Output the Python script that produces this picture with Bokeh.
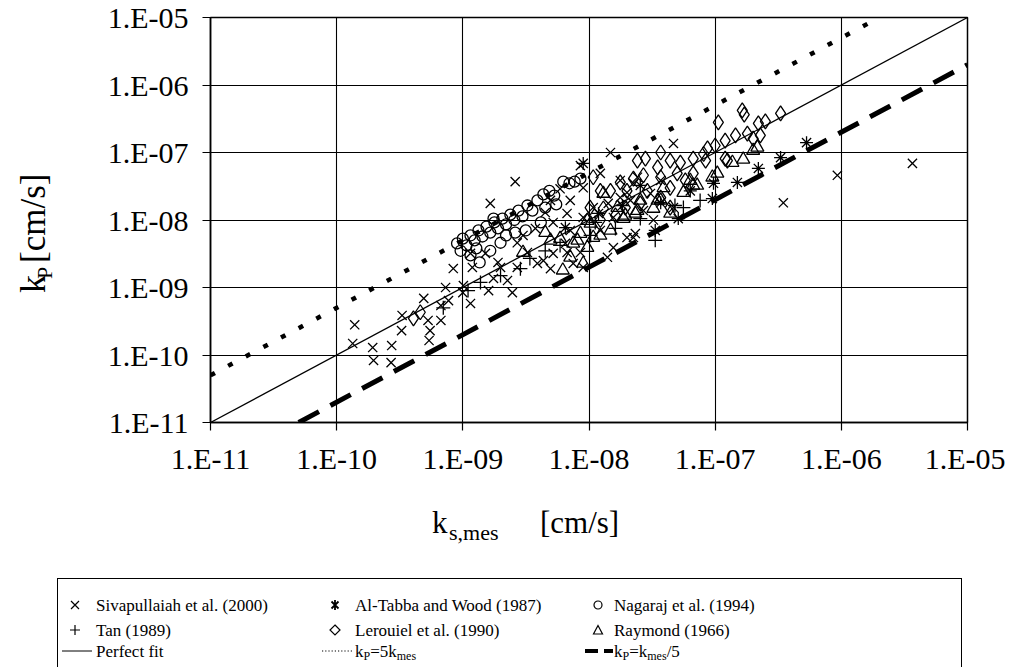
import math
from bokeh.plotting import figure
from bokeh.models import FixedTicker, CustomJSTickFormatter, Range1d, Div
from bokeh.layouts import column, row
from bokeh.embed import file_html
from bokeh.resources import INLINE

FONT = "Liberation Serif"

# ---------------- data ----------------
tick_values = [1e-11, 1e-10, 1e-9, 1e-8, 1e-7, 1e-6, 1e-5]
tick_labels = ["1.E-11", "1.E-10", "1.E-09", "1.E-08", "1.E-07", "1.E-06", "1.E-05"]

siv_x = [1.39e-10, 1.34e-10, 1.93e-10, 1.96e-10, 2.73e-10, 2.70e-10, 3.27e-10, 3.30e-10, 4.9e-10, 5.3e-10,
         5.4e-10, 6.7e-10, 7.3e-10, 7.7e-10, 8.4e-10, 1.15e-9, 1.19e-9, 1.15e-9, 1.51e-9, 1.75e-9,
         1.99e-9, 2.47e-9, 2.7e-9, 2.7e-9, 3.25e-9, 3.9e-9, 4.35e-9, 4.95e-9, 5.2e-9, 6.7e-9,
         7.5e-9, 1.0e-9, 1.01e-9, 2.6e-9, 1.65e-9, 5.2e-9, 6.7e-9, 4.95e-9, 1.08e-8, 1.77e-8,
         2.25e-8, 1.77e-8, 8.55e-9, 9.0e-9, 1.56e-8, 2.25e-8, 1.4e-8, 2.7e-8, 8.55e-9, 1.48e-8,
         4.67e-8, 3.47e-7, 9.3e-7, 3.66e-6, 9.0e-9, 1.23e-8, 2.0e-8, 7.1e-9, 1.42e-8, 2.13e-8,
         3.07e-8, 3.7e-8, 2.42e-8, 1.56e-8, 1.23e-8, 7.1e-9, 9.0e-9, 2.33e-8, 3.24e-8, 4.67e-8,
         6.5e-9, 2.0e-8, 3.0e-9, 3.76e-9, 1.9e-9, 2.26e-9, 1.6e-9, 6.7e-10, 5.5e-10, 5.9e-9,
         4.5e-9]
siv_y = [2.8e-10, 1.48e-10, 1.29e-10, 8.3e-11, 1.38e-10, 7.7e-11, 2.3e-10, 3.85e-10, 6.9e-10, 3.25e-10,
         1.64e-10, 5.4e-10, 1.0e-9, 6.4e-10, 1.91e-9, 5.8e-10, 1.98e-9, 3.2e-9, 3.2e-9, 1.36e-9,
         1.98e-9, 8.4e-10, 1.98e-9, 4.6e-9, 3.3e-9, 2.27e-9, 2.5e-9, 1.9e-9, 3.2e-9, 3.3e-9,
         2.27e-9, 8.4e-10, 1.07e-9, 3.7e-8, 1.76e-8, 9.2e-9, 1.25e-8, 1.95e-8, 1.53e-8, 3.85e-8,
         3.5e-8, 2.15e-8, 3.3e-9, 1.98e-9, 3.9e-9, 5.5e-9, 2.8e-9, 1.38e-8, 6.4e-8, 1.0e-7,
         1.36e-7, 1.8e-8, 4.6e-8, 6.9e-8, 3.0e-8, 4.9e-8, 2.55e-8, 1.95e-8, 1.76e-8, 1.95e-8,
         2.47e-8, 3.85e-8, 4.3e-8, 1.09e-8, 7.0e-9, 7.0e-9, 1.09e-8, 6.3e-9, 1.0e-8, 1.53e-8,
         4.5e-9, 5.5e-9, 5.9e-9, 7.5e-9, 2.35e-9, 1.27e-9, 9.0e-10, 3.25e-10, 2.3e-10, 2.9e-8,
         1.29e-8]

alt_x = [9.5e-8, 9.7e-8, 1.5e-7, 2.2e-7, 3.3e-7, 5.3e-7, 5.1e-8, 9.0e-9, 3.7e-8, 2.55e-8,
         1.84e-8, 1.19e-8, 6.35e-8, 3.35e-8, 6.5e-9]
alt_y = [2.08e-8, 3.5e-8, 3.6e-8, 5.8e-8, 8.4e-8, 1.4e-7, 1.05e-8, 6.9e-8, 1.8e-8, 3.25e-8,
         1.64e-8, 1.25e-8, 2.7e-8, 7.0e-9, 7.7e-9]

nag_x = [9.0e-10, 1.0e-9, 1.07e-9, 1.15e-9, 1.24e-9, 1.33e-9, 1.43e-9, 1.54e-9, 1.65e-9, 1.78e-9,
         1.9e-9, 2.06e-9, 2.2e-9, 2.38e-9, 2.56e-9, 2.76e-9, 2.97e-9, 3.25e-9, 3.56e-9, 3.9e-9,
         4.35e-9, 4.85e-9, 5.3e-9, 6.25e-9, 7.0e-9, 7.7e-9, 8.55e-9, 1.15e-9, 1.36e-9, 1.65e-9,
         1.99e-9, 2.6e-9, 3.15e-9, 9.6e-10, 1.28e-9, 4.15e-9, 5.5e-9, 4.5e-9, 2.2e-9, 1.75e-9]
nag_y = [4.5e-9, 5.3e-9, 4.2e-9, 5.9e-9, 5.0e-9, 7.0e-9, 5.7e-9, 8.0e-9, 6.5e-9, 9.2e-9,
         7.5e-9, 1.05e-8, 8.6e-9, 1.2e-8, 1.0e-8, 1.38e-8, 1.13e-8, 1.64e-8, 1.38e-8, 1.95e-8,
         2.4e-8, 2.7e-8, 2.3e-8, 3.7e-8, 3.5e-8, 3.7e-8, 4.1e-8, 3.0e-9, 2.35e-9, 3.5e-9,
         4.6e-9, 6.5e-9, 7.0e-9, 3.5e-9, 3.8e-9, 9.2e-9, 1.7e-8, 1.53e-8, 5.9e-9, 1.05e-8]

tan_x = [4.8e-8, 5.6e-8, 7.0e-10, 1.1e-9, 1.99e-9, 3.4e-9, 5.9e-9, 1.03e-8, 1.62e-8, 2.55e-8,
         7.6e-8, 4.5e-9, 2.86e-9, 1.38e-9, 1.12e-8, 3.35e-8]
tan_y = [1.64e-8, 1.53e-8, 5.0e-10, 9.0e-10, 1.5e-9, 2.7e-9, 4.2e-9, 5.9e-9, 7.5e-9, 1.05e-8,
         1.95e-8, 3.5e-9, 1.9e-9, 1.19e-9, 9.2e-9, 5.0e-9]

ler_x = [1.06e-7, 1.64e-7, 1.7e-7, 3.3e-7, 2.2e-7, 2.5e-7, 2.28e-7, 1.8e-7, 1.45e-7, 1.2e-7,
         1.0e-7, 8.7e-8, 2.0e-7, 1.2e-7, 8.4e-8, 2.42e-8, 2.8e-8, 3.7e-8, 4.4e-8, 5.3e-8,
         6.7e-8, 8.1e-8, 1.25e-7, 6.7e-8, 5.0e-8, 3.7e-8, 3.5e-8, 2.7e-8, 2.25e-8, 1.77e-8,
         2.0e-8, 1.48e-8, 1.23e-8, 1.08e-8, 2.9e-8, 4.4e-8, 5.8e-8, 2.55e-8, 3.7e-8, 1.3e-8,
         1.02e-8, 1.94e-8, 4.4e-8, 4.06e-10, 4.6e-10, 1.23e-8, 1.62e-8]
ler_y = [2.8e-7, 4.2e-7, 3.65e-7, 3.8e-7, 2.7e-7, 2.9e-7, 1.8e-7, 1.9e-7, 1.8e-7, 1.5e-7,
         1.27e-7, 1.15e-7, 1.6e-7, 8.1e-8, 7.6e-8, 7.6e-8, 8.1e-8, 1.0e-7, 7.6e-8, 7.1e-8,
         8.1e-8, 9.5e-8, 7.6e-8, 4.9e-8, 4.9e-8, 4.3e-8, 6.0e-8, 4.6e-8, 4.1e-8, 3.6e-8,
         2.7e-8, 2.7e-8, 2.7e-8, 4.3e-8, 2.7e-8, 3.0e-8, 3.85e-8, 1.76e-8, 2.15e-8, 1.48e-8,
         1.53e-8, 1.53e-8, 1.53e-8, 3.5e-10, 4.3e-10, 1.0e-8, 1.17e-8]

ray_x = [2.16e-7, 2.0e-7, 1.67e-7, 1.37e-7, 1.04e-7, 9.5e-8, 6.35e-8, 5.6e-8, 7.2e-8, 3.7e-8,
         3.24e-8, 2.33e-8, 1.88e-8, 1.48e-8, 1.08e-8, 9.7e-9, 8.1e-9, 5.9e-9, 1.68e-8, 2.55e-8,
         3.9e-8, 4.4e-8, 1.03e-8, 8.55e-9, 9.7e-9, 9.0e-9, 7.1e-9, 7.5e-9, 2.42e-8, 3.5e-8,
         6.7e-8, 1.3e-8, 6.2e-9, 1.23e-8, 4.95e-9, 3.0e-9, 1.94e-8, 4.5e-9]
ray_y = [1.19e-7, 1.07e-7, 7.9e-8, 7.1e-8, 4.9e-8, 4.3e-8, 3.85e-8, 2.55e-8, 3.25e-8, 1.95e-8,
         1.48e-8, 1.25e-8, 1.05e-8, 7.0e-9, 5.5e-9, 9.8e-9, 5.0e-9, 5.3e-9, 1.53e-8, 1.95e-8,
         3.0e-8, 1.25e-8, 8.9e-9, 6.3e-9, 3.9e-9, 2.27e-9, 2.8e-9, 4.5e-9, 1.38e-8, 1.95e-8,
         3.25e-8, 2.47e-8, 1.8e-9, 5.9e-9, 5.0e-9, 3.3e-9, 1.17e-8, 6.5e-9]

# reference lines k_P = k_mes, 5 k_mes, k_mes / 5
FACTOR = 5.0
fit_x = [1e-11, 1e-5]
upper_x = [1e-11, 2e-6]
lower_x = [5e-11, 1e-5]
fit_y = list(fit_x)
upper_y = [FACTOR * v for v in upper_x]
lower_y = [v / FACTOR for v in lower_x]

series_names = ["Sivapullaiah et al. (2000)", "Al-Tabba and Wood (1987)", "Nagaraj et al. (1994)",
                "Tan (1989)", "Lerouiel et al. (1990)", "Raymond (1966)"]

# ---------------- main plot ----------------
YW = 60                 # width of the y-title strip
PW, PH = 945, 482       # plot canvas
p = figure(width=PW, height=PH, x_axis_type="log", y_axis_type="log",
           x_range=Range1d(1e-11, 1e-5), y_range=Range1d(1e-11, 1e-5),
           output_backend="svg", toolbar_location=None,
           min_border_left=150, min_border_right=38, min_border_top=17, min_border_bottom=60)

exps = [round(math.log10(t)) for t in tick_values]
for ax in (p.xaxis[0], p.yaxis[0]):
    ax.ticker = FixedTicker(ticks=tick_values, minor_ticks=[])
    ax.formatter = CustomJSTickFormatter(args=dict(exps=exps, labels=tick_labels), code="""
        const e = Math.round(Math.log10(tick));
        const i = exps.indexOf(e);
        return i < 0 ? "" : labels[i];
    """)
    ax.major_label_text_font = FONT
    ax.major_label_text_font_size = "30px"
    ax.major_label_text_color = "black"
    ax.axis_line_color = "black"
    ax.axis_line_width = 1.5
    ax.major_tick_line_color = "black"
    ax.major_tick_line_width = 1.2
    ax.major_tick_in = 0
    ax.major_tick_out = 8
    ax.minor_tick_line_color = None
p.yaxis[0].major_label_standoff = 14
p.xaxis[0].major_label_standoff = 11

p.xgrid.ticker = FixedTicker(ticks=tick_values, minor_ticks=[])
p.ygrid.ticker = FixedTicker(ticks=tick_values, minor_ticks=[])
for g in (p.xgrid[0], p.ygrid[0]):
    g.grid_line_color = "black"
    g.grid_line_alpha = 1.0
    g.grid_line_width = 1.1
p.outline_line_color = "black"
p.outline_line_width = 1.5
p.background_fill_color = "white"
p.border_fill_color = "white"

p.line(fit_x, fit_y, line_color="black", line_width=1.3)
p.line(upper_x, upper_y, line_color="black", line_width=4.5, line_dash="5 15")
p.line(lower_x, lower_y, line_color="black", line_width=5, line_dash="23 13")

mk = dict(line_color="black", line_width=1.3)
p.scatter(ler_x, ler_y, marker="diamond", size=15, fill_color=None, **mk)
p.scatter(ray_x, ray_y, marker="triangle", size=13, fill_color=None, **mk)
p.scatter(nag_x, nag_y, marker="circle", size=11, fill_color=None, **mk)
p.scatter(tan_x, tan_y, marker="cross", size=14, **mk)
p.scatter(alt_x, alt_y, marker="asterisk", size=13, **mk)
p.scatter(siv_x, siv_y, marker="x", size=13, **mk)

# ---------------- HTML helpers (titles and legend) ----------------
FF = "font-family:'Liberation Serif',serif;color:black;"
ASC = 0.8375   # baseline offset (em) for line-height 1


def sub(t, fs=12, dy=3):
    return f'<span style="font-size:{fs}px;position:relative;top:{dy}px">{t}</span>'


def htext(t, left, baseline, fs):
    top = baseline - ASC * fs
    return (f'<div style="position:absolute;left:{left}px;top:{top:.1f}px;font-size:{fs}px;'
            f'line-height:{fs}px;white-space:nowrap;{FF}">{t}</div>')


def vtext(t, baseline_x, start_y, fs):
    left = baseline_x - ASC * fs
    return (f'<div style="position:absolute;left:{left:.1f}px;top:{start_y}px;font-size:{fs}px;'
            f'line-height:{fs}px;white-space:nowrap;transform-origin:0 0;transform:rotate(-90deg);{FF}">{t}</div>')


def svg_icon(cx, cy, body, w=12, h=12):
    return (f'<svg style="position:absolute;left:{cx - w / 2}px;top:{cy - h / 2}px;overflow:visible" '
            f'width="{w}" height="{h}" viewBox="0 0 {w} {h}">{body}</svg>')


ST = 'stroke="black" stroke-width="1.2" fill="none"'
icons = [
    f'<path d="M2,2 L10,10 M10,2 L2,10" {ST}/>',
    f'<path d="M2.5,2.5 L9.5,9.5 M9.5,2.5 L2.5,9.5 M6,1 L6,11" stroke="black" stroke-width="1.8" fill="none"/>',
    f'<circle cx="6" cy="6" r="4" {ST}/>',
    f'<path d="M6,1 L6,11 M1,6 L11,6" {ST}/>',
    f'<path d="M6,1 L11,6 L6,11 L1,6 Z" {ST}/>',
    f'<path d="M6,1.5 L10.5,10 L1.5,10 Z" {ST}/>',
]
line_icons = [
    '<line x1="0" y1="4" x2="30" y2="4" stroke="black" stroke-width="1"/>',
    '<line x1="0" y1="4" x2="30" y2="4" stroke="black" stroke-width="1.2" stroke-dasharray="1.2 2"/>',
    '<line x1="0" y1="4" x2="28" y2="4" stroke="black" stroke-width="4" stroke-dasharray="13 6"/>',
]
line_names = ["Perfect fit",
              "k" + sub("P") + "=5k" + sub("mes"),
              "k" + sub("P") + "=k" + sub("mes") + "/5"]

# ---------------- y-title strip ----------------
ytitle = (vtext("k", 45, 293, 36) + vtext("P", 52, 279, 22) + vtext("[cm/s]", 45, 263, 35))
ydiv = Div(text=f'<div style="position:relative;width:{YW}px;height:{PH}px">{ytitle}</div>',
           width=YW, height=PH, margin=0)

# ---------------- bottom strip: x title + legend ----------------
BW, BH = YW + PW, 667 - PH
B0 = PH   # page y of the strip top
parts = []
parts.append(htext("k", 432, 533 - B0, 31))
parts.append(htext("s,mes", 449, 540 - B0, 22))
parts.append(htext("[cm/s]", 540, 533 - B0, 31))

# legend box
parts.append(f'<div style="position:absolute;left:57px;top:{578 - B0}px;width:905px;height:{667 - 578}px;'
             f'box-sizing:border-box;border:1.5px solid black;border-bottom:none"></div>')
col_icon = [75, 335, 598]
col_text = [96, 355, 614]
col_line = [62, 322, 585]
row_c = [605 - B0, 630 - B0, 651 - B0]
for i, name in enumerate(series_names):
    r, c = divmod(i, 3)
    parts.append(svg_icon(col_icon[c], row_c[r], icons[i]))
    parts.append(htext(name, col_text[c], row_c[r] + 6, 17))
for c, name in enumerate(line_names):
    parts.append(f'<svg style="position:absolute;left:{col_line[c]}px;top:{row_c[2] - 4}px;overflow:visible" '
                 f'width="30" height="8">{line_icons[c]}</svg>')
    parts.append(htext(name, col_text[c], row_c[2] + 6, 17))

bdiv = Div(text=f'<div style="position:relative;width:{BW}px;height:{BH}px;overflow:hidden">{"".join(parts)}</div>',
           width=BW, height=BH, margin=0)

layout = column(row(ydiv, p, spacing=0), bdiv, spacing=0)
open("out.html", "w").write(file_html(layout, INLINE))
